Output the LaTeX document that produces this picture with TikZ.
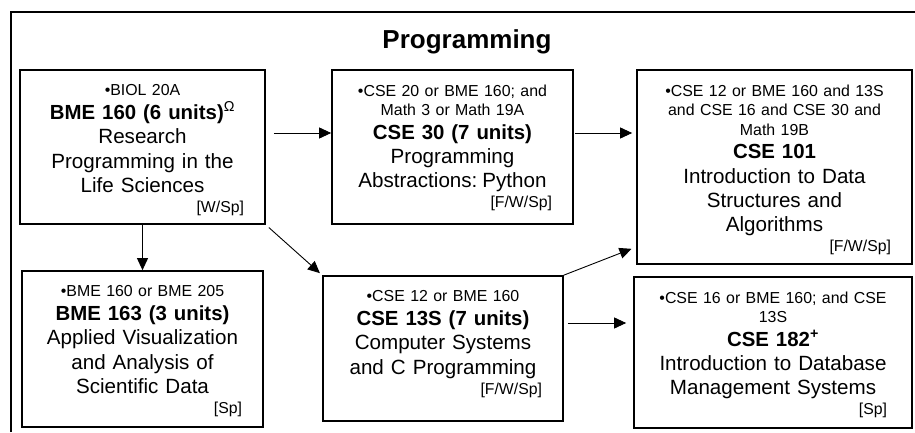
\documentclass[tikz,border=0pt]{standalone}
\usepackage{fontspec}
\setmainfont{Liberation Sans}
\usetikzlibrary{positioning, arrows.meta}
\newcommand{\reqsize}{\fontsize{15.9}{19.5}\selectfont\spaceskip=0.34em}
\newcommand{\numsize}{\fontsize{20.4}{23.5}\selectfont\bfseries\spaceskip=0.34em}
\newcommand{\namesize}{\fontsize{20.6}{24.3}\selectfont\spaceskip=0.34em}
\newcommand{\termsize}{\fontsize{15.8}{20}\selectfont}

\begin{document}
\begin{tikzpicture}[x=1pt, y=1pt,
                node distance = 15.5pt and 15.5pt,
                box/.style = {draw, line width=1.7pt, inner sep=0pt},
                txt/.style = {align=center, inner sep=0pt},
                arr/.style = {-{Triangle[length=12pt,width=11pt]}, line width=0.9pt}
                    ]
                \useasboundingbox (0,0) rectangle (915,432);
                \draw[line width=1.7pt] (11,0) -- (11,420) -- (915,420);
                \node[font=\fontsize{26}{30}\selectfont\bfseries, anchor=base] (title) at (467,383) {Programming};
                % course boxes
                \node[box, minimum width=245, minimum height=154] (bme160) at (142.5,285) {};
                \node[box, minimum width=241, minimum height=154] (cse30) at (452.5,285) {};
                \node[box, minimum width=275, minimum height=194] (cse101) at (774.5,265) {};
                \node[box, minimum width=241, minimum height=156] (bme163) at (142.5,83) {};
                \node[box, minimum width=240, minimum height=145] (cse13s) at (443,83.5) {};
                \node[box, minimum width=278, minimum height=151] (cse182) at (773,79.5) {};
                % course texts
                \node[txt, text width=239, below=of bme160.north] (bme160t) {%
                    {\reqsize •BIOL 20A\par}
                    {\numsize BME 160 (6 units)\textsuperscript{\normalfont Ω}\par}
                    {\namesize Research\\ Programming in the\\ Life Sciences\par}
                    {\termsize\makebox[\hsize][r]{[W/Sp]\hspace{18pt}}\par}};
                \node[txt, text width=235, below=of cse30.north] (cse30t) {%
                    {\reqsize •CSE 20 or BME 160; and\\ Math 3 or Math 19A\par}
                    {\numsize CSE 30 (7 units)\par}
                    {\namesize Programming\\ Abstractions: Python\par}
                    {\termsize\makebox[\hsize][r]{[F/W/Sp]\hspace{18pt}}\par}};
                \node[txt, text width=269, below=of cse101.north] (cse101t) {%
                    {\reqsize •CSE 12 or BME 160 and 13S\\ and CSE 16 and CSE 30 and\\ Math 19B\par}
                    {\numsize CSE 101\par}
                    {\namesize Introduction to Data\\ Structures and\\ Algorithms\par}
                    {\termsize\makebox[\hsize][r]{[F/W/Sp]\hspace{18pt}}\par}};
                \node[txt, text width=235, below=of bme163.north] (bme163t) {%
                    {\reqsize •BME 160 or BME 205\par}
                    {\numsize BME 163 (3 units)\par}
                    {\namesize Applied Visualization\\ and Analysis of\\ Scientific Data\par}
                    {\termsize\makebox[\hsize][r]{[Sp]\hspace{18pt}}\par}};
                \node[txt, text width=234, below=of cse13s.north] (cse13st) {%
                    {\reqsize •CSE 12 or BME 160\par}
                    {\numsize CSE 13S (7 units)\par}
                    {\namesize Computer Systems\\ and C Programming\par}
                    {\termsize\makebox[\hsize][r]{[F/W/Sp]\hspace{18pt}}\par}};
                \node[txt, text width=272, below=of cse182.north] (cse182t) {%
                    {\reqsize •CSE 16 or BME 160; and CSE\\ 13S\par}
                    {\numsize CSE 182\textsuperscript{+}\par}
                    {\namesize Introduction to Database\\ Management Systems\par}
                    {\termsize\makebox[\hsize][r]{[Sp]\hspace{22pt}}\par}};
                % prerequisites
                \draw[arr] ([xshift=8pt,yshift=14pt]bme160.east) -- ([yshift=14pt]cse30.west);
                \draw[arr, shorten >=4pt] ([xshift=1pt,yshift=14pt]cse30.east) -- ([yshift=34pt]cse101.west);
                \draw[arr] (bme160.south) -- (bme163.north);
                \draw[arr, shorten <=4pt, shorten >=3pt] (bme160.south east) -- (cse13s.north west);
                \draw[arr, shorten >=5pt] (cse13s.north east) -- ([yshift=-80pt]cse101.west);
                \draw[arr, shorten <=4pt, shorten >=7pt] ([yshift=25.5pt]cse13s.east) -- ([yshift=29.5pt]cse182.west);
            \end{tikzpicture}
\end{document}
